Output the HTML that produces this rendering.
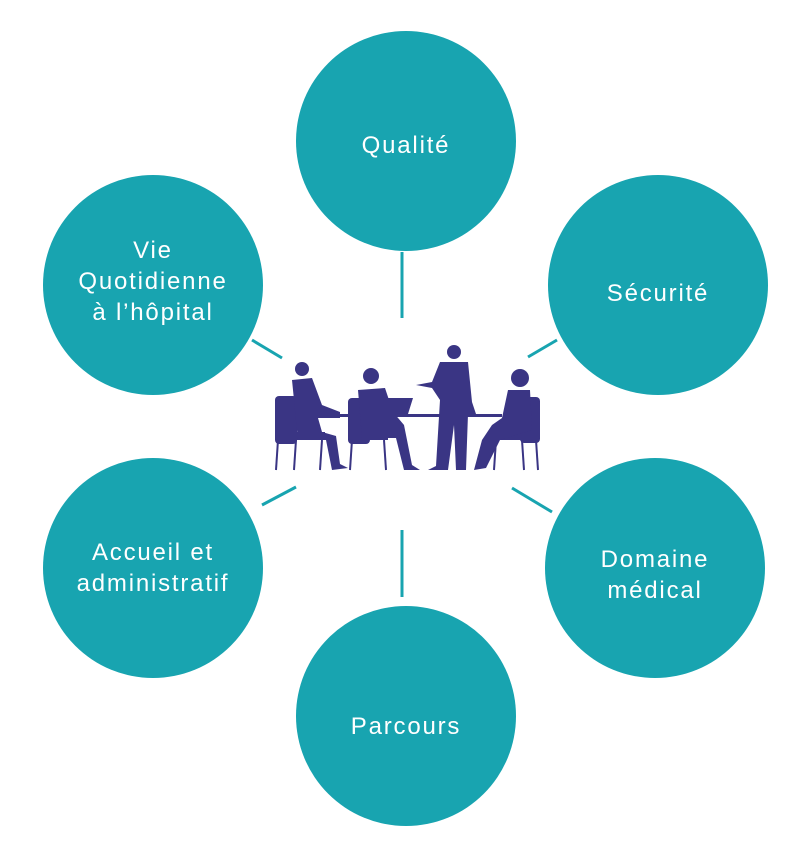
<!DOCTYPE html>
<html><head><meta charset="utf-8"><style>
body{margin:0;background:#fff;width:812px;height:856px;overflow:hidden;position:relative;font-family:"Liberation Sans",sans-serif}
.c{position:absolute;width:220px;height:220px;border-radius:50%;background:#18a4b0;color:#fff;display:flex;align-items:center;justify-content:center;text-align:center;font-size:24px;line-height:31px;letter-spacing:1.8px;box-sizing:border-box}
svg{position:absolute;left:0;top:0}
</style></head><body>
<div class="c" style="left:296px;top:31px;padding-top:8px">Qualité</div>
<div class="c" style="left:548px;top:175px;padding-top:16px">Sécurité</div>
<div class="c" style="left:545px;top:458px;padding-top:14px">Domaine<br>médical</div>
<div class="c" style="left:296px;top:606px;padding-top:20px">Parcours</div>
<div class="c" style="left:43px;top:458px">Accueil et<br>administratif</div>
<div class="c" style="left:43px;top:175px;padding-bottom:8px">Vie<br>Quotidienne<br>à l’hôpital</div>
<svg width="812" height="856">
<g stroke="#18a4b0" stroke-width="3">
<line x1="402" y1="252" x2="402" y2="318"/><line x1="402" y1="530" x2="402" y2="597"/>
<line x1="528" y1="357" x2="557" y2="340"/><line x1="252" y1="340" x2="282" y2="358"/>
<line x1="262" y1="505" x2="296" y2="487"/><line x1="512" y1="488" x2="552" y2="512"/>
</g>
<g fill="#3a3584" stroke="#3a3584">
<rect x="318" y="414" width="184" height="3" stroke="none"/>
<rect x="275" y="396" width="22" height="48" rx="4" stroke="none"/>
<rect x="275" y="432" width="50" height="8" stroke="none"/>
<line x1="278" y1="440" x2="276" y2="470" stroke-width="2"/><line x1="296" y1="440" x2="294" y2="470" stroke-width="2"/><line x1="322" y1="440" x2="320" y2="470" stroke-width="2"/>
<circle cx="302" cy="369" r="7" stroke="none"/>
<path d="M292 380 L312 378 L322 405 L340 412 L340 418 L318 418 L322 432 L336 436 L340 464 L348 468 L332 470 L326 440 L298 440 Z" stroke="none"/>
<rect x="348" y="398" width="22" height="46" rx="4" stroke="none"/>
<rect x="348" y="432" width="40" height="8" stroke="none"/>
<line x1="352" y1="440" x2="350" y2="470" stroke-width="2"/><line x1="384" y1="440" x2="386" y2="470" stroke-width="2"/>
<circle cx="371" cy="376" r="8" stroke="none"/>
<path d="M358 390 L385 388 L393 412 L404 425 L412 465 L420 470 L404 470 L396 438 L362 438 Z" stroke="none"/>
<path d="M388 398 L413 398 L408 414 L388 414 Z" stroke="none"/>
<circle cx="454" cy="352" r="7" stroke="none"/>
<path d="M440 362 L468 362 L472 402 L476 414 L468 414 L466 470 L456 470 L454 425 L448 470 L428 470 L436 466 L440 400 L432 388 L416 385 L432 382 Z" stroke="none"/>
<rect x="520" y="397" width="20" height="46" rx="4" stroke="none"/>
<line x1="522" y1="440" x2="524" y2="470" stroke-width="2"/><line x1="536" y1="440" x2="538" y2="470" stroke-width="2"/><line x1="496" y1="440" x2="494" y2="470" stroke-width="2"/>
<rect x="490" y="432" width="48" height="8" stroke="none"/>
<circle cx="520" cy="378" r="9" stroke="none"/>
<path d="M508 390 L530 390 L532 430 L500 440 L486 468 L474 470 L482 440 L492 425 L502 418 Z" stroke="none"/>
</g>
</svg>
</body></html>
